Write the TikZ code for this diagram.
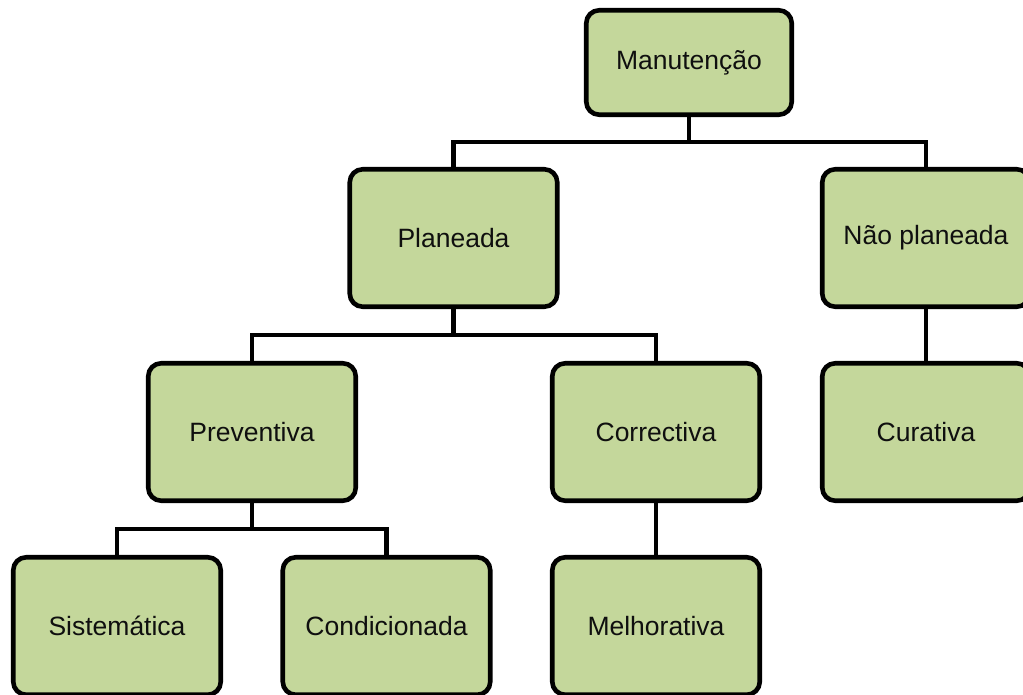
\documentclass[tikz,border=0pt]{standalone}
\usepackage{fontspec}
\setmainfont{Liberation Sans}
\definecolor{boxfill}{RGB}{196,215,155}
\definecolor{boxtext}{RGB}{15,15,15}
\begin{document}
\begin{tikzpicture}[x=1pt,y=-1pt,
  treebox/.style={draw=black, line width=4.6pt, fill=boxfill, rounded corners=13pt,
    minimum width=207.5pt, minimum height=137.5pt, inner sep=0pt, outer sep=0pt,
    text=boxtext, font=\fontsize{26.5}{30}\selectfont},
  link/.style={draw=black, line width=4.6pt, line join=miter}]
\useasboundingbox (0,0) rectangle (1023,695);

% heights of the horizontal bars between levels
\coordinate (b1) at (0,142);
\coordinate (b2) at (0,335);
\coordinate (b3) at (0,529);

% boxes
\node[treebox, minimum height=104.5pt, minimum width=205.5pt] (man) at (689,62.5) {Manutenção};
\node[treebox] (plan) at (453.5,238) {Planeada};
\node[treebox] (naop) at (926,238) {Não planeada};
\node[treebox] (prev) at (252,432) {Preventiva};
\node[treebox] (corr) at (656,432) {Correctiva};
\node[treebox] (cur)  at (926,432) {Curativa};
\node[treebox] (sist) at (117,626) {Sistemática};
\node[treebox] (cond) at (386.5,626) {Condicionada};
\node[treebox] (melh) at (656,626) {Melhorativa};

% connectors
\draw[link] (man.south) -- (man.south |- b1);
\draw[link] (plan.north) -- (plan.north |- b1) -- (naop.north |- b1) -- (naop.north);
\draw[link] (plan.south) -- (plan.south |- b2);
\draw[link] (prev.north) -- (prev.north |- b2) -- (corr.north |- b2) -- (corr.north);
\draw[link] (naop.south) -- (cur.north);
\draw[link] (prev.south) -- (prev.south |- b3);
\draw[link] (sist.north) -- (sist.north |- b3) -- (cond.north |- b3) -- (cond.north);
\draw[link] (corr.south) -- (melh.north);
\end{tikzpicture}
\end{document}
